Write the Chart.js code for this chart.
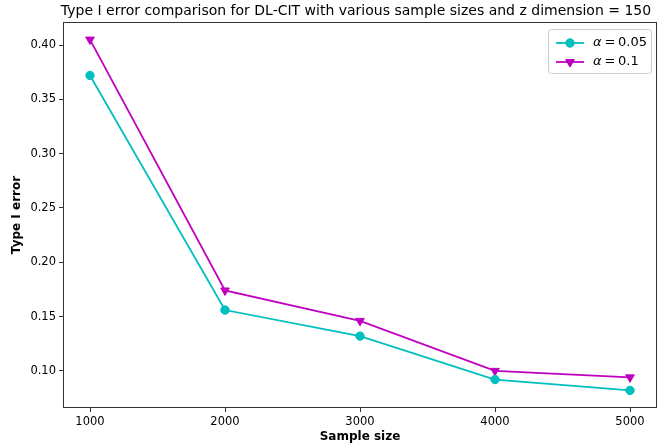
<!DOCTYPE html>
<html>
<head>
<meta charset="utf-8">
<script src="https://cdn.jsdelivr.net/npm/chart.js@4.4.1/dist/chart.umd.min.js"></script>
<style>
  html, body { margin: 0; padding: 0; background: #fff; }
  #wrap { width: 663px; height: 448px; }
</style>
</head>
<body>
<div id="wrap"><canvas id="chart" width="663" height="448"></canvas></div>
<script>
const sampleSizes = [1000, 2000, 3000, 4000, 5000];
const err005 = [0.372, 0.156, 0.132, 0.092, 0.082];
const err01 = [0.405, 0.174, 0.146, 0.100, 0.094];
const yTicks = [0.10, 0.15, 0.20, 0.25, 0.30, 0.35, 0.40];
const titleText = 'Type I error comparison for DL-CIT with various sample sizes and z dimension = 150';
const legendValues = ['0.05', '0.1'];

const FONT = 'DejaVu Sans';

// title, box round the axes and the legend
const framePlugin = {
    id: 'frame',
    afterDraw(chart) {
        const ctx = chart.ctx;
        const a = chart.chartArea;
        ctx.save();
        ctx.strokeStyle = '#333';
        ctx.lineWidth = 1;
        ctx.strokeRect(a.left + 0.5, a.top + 0.5, a.right - a.left - 1, a.bottom - a.top - 1);

        ctx.fillStyle = '#000';
        ctx.font = '14px "' + FONT + '"';
        ctx.textAlign = 'center';
        ctx.textBaseline = 'middle';
        ctx.fillText(titleText, (a.left + a.right) / 2 - 4, 11);

        // legend
        const bx = 548, by = 29, bw = 103, bh = 44;
        ctx.fillStyle = 'rgba(255,255,255,0.8)';
        ctx.strokeStyle = '#ccc';
        ctx.lineWidth = 1;
        ctx.beginPath();
        ctx.roundRect(bx + 0.5, by + 0.5, bw, bh, 3);
        ctx.fill();
        ctx.stroke();
        chart.data.datasets.forEach((ds, i) => {
            const y = by + 14 + i * 19;
            ctx.strokeStyle = ds.borderColor;
            ctx.lineWidth = ds.borderWidth;
            ctx.beginPath();
            ctx.moveTo(bx + 8, y);
            ctx.lineTo(bx + 36, y);
            ctx.stroke();
            ctx.lineWidth = 1;
            Chart.helpers.drawPoint(ctx, {
                pointStyle: ds.pointStyle, rotation: ds.rotation,
                radius: ds.pointRadius, borderWidth: 1
            }, bx + 22, y);
            ctx.fillStyle = ds.borderColor;
            ctx.fill();
            ctx.fillStyle = '#000';
            ctx.textAlign = 'left';
            ctx.font = 'italic 13px "' + FONT + '"';
            ctx.fillText('α', bx + 45, y);
            ctx.font = '13px "' + FONT + '"';
            ctx.fillText('\u2009=\u2009' + legendValues[i], bx + 54, y);
        });
        ctx.restore();
    }
};

new Chart(document.getElementById('chart').getContext('2d'), {
    type: 'line',
    data: {
        datasets: [{
            label: 'α = 0.05',
            data: sampleSizes.map((s, i) => ({ x: s, y: err005[i] })),
            borderColor: '#00BFBF',
            backgroundColor: '#00BFBF',
            borderWidth: 1.8,
            pointStyle: 'circle',
            rotation: 0,
            pointRadius: 4.2,
            pointBorderWidth: 1,
            tension: 0
        }, {
            label: 'α = 0.1',
            data: sampleSizes.map((s, i) => ({ x: s, y: err01[i] })),
            borderColor: '#BF00BF',
            backgroundColor: '#BF00BF',
            borderWidth: 1.8,
            pointStyle: 'triangle',
            rotation: 180,
            pointRadius: 5,
            pointBorderWidth: 1,
            tension: 0
        }]
    },
    options: {
        responsive: false,
        animation: false,
        layout: { padding: { top: 22, right: 5, bottom: 0, left: 0 } },
        plugins: {
            legend: { display: false },
            title: { display: false },
            tooltip: { enabled: false }
        },
        scales: {
            x: {
                type: 'linear',
                min: 800,
                max: 5200,
                afterBuildTicks: s => { s.ticks = sampleSizes.map(v => ({ value: v })); },
                afterFit: s => { s.height = 40; },
                grid: { drawOnChartArea: false, drawTicks: true, tickLength: 4, color: '#333' },
                border: { display: false },
                ticks: {
                    color: '#000', padding: 3, maxRotation: 0,
                    font: { family: FONT, size: 11.5 },
                    callback: v => String(v)
                },
                title: {
                    display: true, text: 'Sample size', color: '#000',
                    font: { family: FONT, size: 12, weight: 'bold' },
                    padding: { top: 0, bottom: 4 }
                }
            },
            y: {
                min: 0.0658,
                max: 0.4212,
                afterBuildTicks: s => { s.ticks = yTicks.map(v => ({ value: v })); },
                afterFit: s => { s.width = 63; },
                grid: { drawOnChartArea: false, drawTicks: true, tickLength: 4, color: '#333' },
                border: { display: false },
                ticks: {
                    color: '#000', padding: 3,
                    font: { family: FONT, size: 11.5 },
                    callback: v => v.toFixed(2)
                },
                title: {
                    display: true, text: 'Type I error', color: '#000',
                    font: { family: FONT, size: 12, weight: 'bold' },
                    padding: { top: 10, bottom: 0 }
                }
            }
        }
    },
    plugins: [framePlugin]
});
</script>
</body>
</html>
